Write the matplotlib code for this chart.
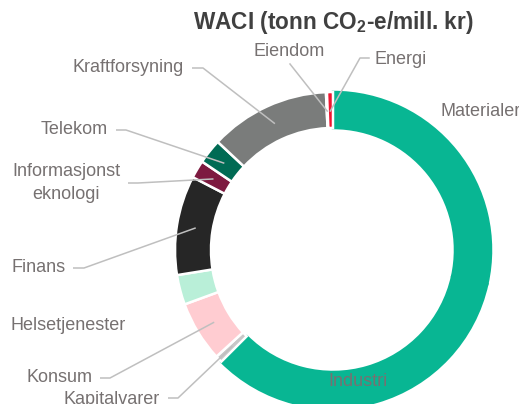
import numpy as np
import matplotlib
matplotlib.use("Agg")
import matplotlib.pyplot as plt

plt.rcParams["font.family"] = ["Liberation Sans", "DejaVu Sans"]
plt.rcParams["mathtext.fontset"] = "custom"
plt.rcParams["mathtext.rm"] = "Liberation Sans"
plt.rcParams["mathtext.bf"] = "Liberation Sans:bold"

# sector shares (%), clockwise from 12 o'clock
sectors = ["Materialer", "Industri", "Kapitalvarer", "Konsum", "Helsetjenester",
           "Finans", "Informasjonst\neknologi", "Telekom", "Kraftforsyning",
           "Eiendom", "Energi"]
shares = [28.0, 33.5, 0.7, 6.1, 3.0, 10.0, 1.8, 2.5, 12.1, 0.1, 0.6]
colors = ["#08B693", "#08B693", "#C8C8C8", "#FFCCD1", "#B9EFD8", "#262626",
          "#7D1A40", "#006B54", "#7A7C7B", "#FFFFFF", "#F0142F"]

W, H = 519, 404
cx, cy = 333, 250          # ring centre in pixel coords (top-left origin)
R, ring = 158, 36

label_gray = "#767171"
line_gray = "#BFBFBF"
fs = 13

fig = plt.figure(figsize=(W / 100, H / 100), dpi=100)
ax = fig.add_axes([0, 0, 1, 1])

wedges, _ = ax.pie(shares, colors=colors, startangle=90, counterclock=False,
                   radius=R, center=(cx, H - cy), frame=True,
                   wedgeprops=dict(width=ring, edgecolor="white", linewidth=1.8))
# Materialer and Industri share one colour, hide the seam between them
wedges[0].set_edgecolor(colors[0])
wedges[1].set_edgecolor(colors[1])

ax.set_xlim(0, W)
ax.set_ylim(0, H)
ax.set_aspect("equal")
ax.axis("off")


def mid_point(w, r=0.88 * R):
    a = np.deg2rad((w.theta1 + w.theta2) / 2)
    return cx + r * np.cos(a), (H - cy) + r * np.sin(a)


def put(name, x, y, ha="left", leader=None):
    """label at pixel (x, y); leader = (x0, x1, y) horizontal start of the line"""
    i = sectors.index(name)
    ax.text(x, H - y, name, ha=ha, va="center", fontsize=fs,
            color=label_gray, linespacing=1.4)
    if leader is not None:
        ex, ey = mid_point(wedges[i])
        ax.plot([leader[0], leader[1], ex], [H - leader[2], H - leader[2], ey],
                color=line_gray, lw=1.1, solid_capstyle="butt")


put("Kraftforsyning", 184, 68, ha="right", leader=(192, 203, 68))
put("Telekom", 108, 130, ha="right", leader=(116, 126, 130))
put("Informasjonst\neknologi", 66, 183, ha="center", leader=(128, 138, 183))
put("Finans", 66, 268, ha="right", leader=(73, 84, 268))
put("Helsetjenester", 10, 325)
put("Konsum", 92, 378, ha="right", leader=(100, 110, 378))
put("Kapitalvarer", 160, 400, ha="right", leader=(168, 178, 398))
put("Materialer", 440, 112)
put("Industri", 358, 382, ha="center")

# top labels with their own leader shapes
i = sectors.index("Eiendom")
ax.text(289, H - 52, "Eiendom", ha="center", va="center", fontsize=fs, color=label_gray)
ex, ey = mid_point(wedges[i])
ax.plot([290, ex], [H - 64, ey], color=line_gray, lw=1.1)

i = sectors.index("Energi")
ax.text(375, H - 59, "Energi", ha="left", va="center", fontsize=fs, color=label_gray)
ex, ey = mid_point(wedges[i])
ax.plot([369, 360, ex], [H - 58, H - 58, ey], color=line_gray, lw=1.1)

ax.text(333, H - 22, "WACI (tonn CO$_\\mathbf{2}$-e/mill. kr)", ha="center", va="center",
        fontsize=16.3, fontweight="bold", color="#404040")

fig.savefig("out.png", dpi=100)
